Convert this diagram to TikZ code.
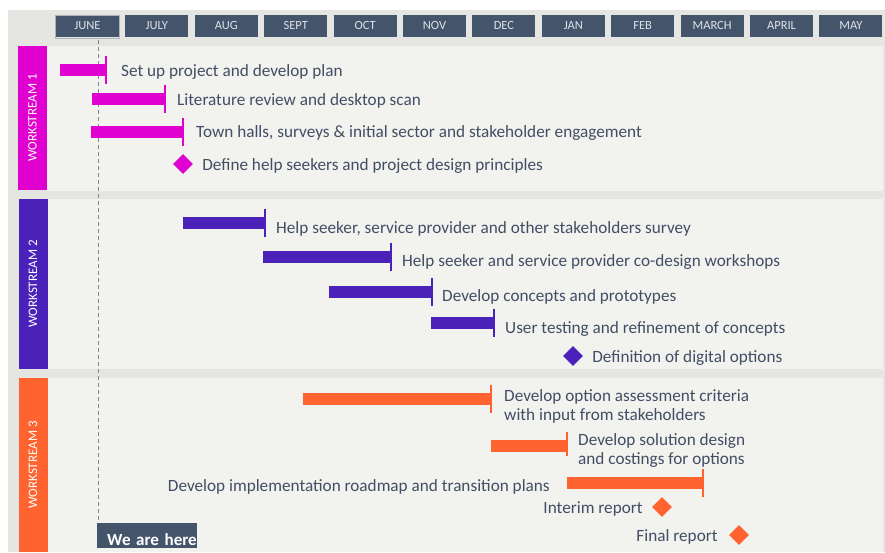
\documentclass[tikz,border=0pt]{standalone}
\usepackage{fontspec}
\setmainfont{Carlito}
\usepackage{tikz}
\usetikzlibrary{positioning, shapes.geometric}
\usepackage{xcolor}
\definecolor{wsone}{RGB}{224,0,208}
\definecolor{wstwo}{RGB}{74,34,185}
\definecolor{wsthree}{RGB}{255,99,48}
\definecolor{slate}{RGB}{68,84,106}
\definecolor{txtcol}{RGB}{66,78,100}
\definecolor{monthtxt}{RGB}{222,226,232}
\definecolor{outerbg}{RGB}{229,229,225}
\definecolor{panelbg}{RGB}{242,242,239}
\tikzset{
  month/.style   = {fill=slate, text=monthtxt, minimum width=63pt, minimum height=22pt,
                    inner sep=0pt, font=\fontsize{12.5}{14}\selectfont},
  stream/.style  = {fill=#1, text=white, rotate=90, minimum height=29pt, inner sep=0pt,
                    font=\fontsize{13}{15}\selectfont},
  bar/.style     = {fill=#1, minimum height=12pt, inner sep=0pt, outer sep=0pt, anchor=west},
  endmark/.style = {draw=#1, line width=1.5pt},
  mile/.style    = {diamond, fill=#1, minimum width=20pt, minimum height=20pt, inner sep=0pt},
  task/.style    = {text=txtcol, inner sep=0pt, align=left, yshift=-2pt,
                    font=\fontsize{17.2}{19}\selectfont},
  nowline/.style = {draw=slate!70, line width=1pt, dash pattern=on 4pt off 3pt},
  here/.style    = {fill=slate, text=white, anchor=north west, minimum height=25pt,
                    text width=80pt, text height=20.5pt, text depth=0pt,
                    inner xsep=10pt, inner ysep=2.25pt, align=left,
                    font=\bfseries\fontsize{17}{20}\selectfont},
}

\begin{document}
\begin{tikzpicture}[x=1pt, y=-1pt]
  \useasboundingbox (0,0) rectangle (885,552);
  % backdrop and the three workstream panels
  \fill[outerbg] (8,10) rectangle (885,552);
  \fill[panelbg] (47,46) rectangle (883,191);
  \fill[panelbg] (47,199) rectangle (883,369);
  \fill[panelbg] (47,378) rectangle (883,552);

  \node[stream=wsone, minimum width=144pt] (w1) at (32.5,118) {WORKSTREAM 1};
  \node[stream=wstwo, minimum width=170pt] (w2) at (33,284) {WORKSTREAM 2};
  \node[stream=wsthree, minimum width=174pt] (w3) at (33,465) {WORKSTREAM 3};

  % month header
  \foreach \m [count=\i from 0] in {JUNE, JULY, AUG, SEPT, OCT, NOV, DEC, JAN, FEB, MARCH, APRIL, MAY}
    \node[month] (m\i) at ({87.5+69.4*\i},25.5) {\m};
  \draw[slate!45, line width=1pt] ([yshift=-1pt]m0.north west) rectangle ([yshift=-1.5pt]m0.south east);

  % today marker
  \coordinate (now) at (98,40);
  \node[here] (here) at (97,523) {\mbox{We are here}};
  \draw[nowline] (now) -- (now |- here.north);

  % workstream 1
  \node[bar=wsone, minimum width=46pt] (a1) at (60,70) {};
  \draw[endmark=wsone] ([yshift=8pt]a1.north east) -- ([yshift=-8pt]a1.south east);
  \node[task, right=15pt of a1] (ta1) {Set up project and develop plan};
  \node[bar=wsone, minimum width=73pt] (a2) at (92,98.5) {};
  \draw[endmark=wsone] ([yshift=8pt]a2.north east) -- ([yshift=-8pt]a2.south east);
  \node[task, right=12pt of a2] (ta2) {Literature review and desktop scan};
  \node[bar=wsone, minimum width=92pt] (a3) at (91,131.5) {};
  \draw[endmark=wsone] ([yshift=8pt]a3.north east) -- ([yshift=-8pt]a3.south east);
  \node[task, right=13pt of a3] (ta3) {Town halls, surveys \& initial sector and stakeholder engagement};
  \node[mile=wsone] (a4) at (183,164) {};
  \node[task, right=9pt of a4] (ta4) {Define help seekers and project design principles};

  % workstream 2
  \node[bar=wstwo, minimum width=82pt] (b1) at (183,223) {};
  \draw[endmark=wstwo] ([yshift=8pt]b1.north east) -- ([yshift=-8pt]b1.south east);
  \node[task, right=11pt of b1, yshift=-4pt] (tb1) {Help seeker, service provider and other stakeholders survey};
  \node[bar=wstwo, minimum width=128pt] (b2) at (263,257) {};
  \draw[endmark=wstwo] ([yshift=8pt]b2.north east) -- ([yshift=-8pt]b2.south east);
  \node[task, right=11pt of b2, yshift=-3pt] (tb2) {Help seeker and service provider co-design workshops};
  \node[bar=wstwo, minimum width=103pt] (b3) at (329,291.5) {};
  \draw[endmark=wstwo] ([yshift=8pt]b3.north east) -- ([yshift=-8pt]b3.south east);
  \node[task, right=10pt of b3, yshift=-3.5pt] (tb3) {Develop concepts and prototypes};
  \node[bar=wstwo, minimum width=63pt] (b4) at (431,322.5) {};
  \draw[endmark=wstwo] ([yshift=8pt]b4.north east) -- ([yshift=-8pt]b4.south east);
  \node[task, right=11pt of b4, yshift=-4pt] (tb4) {User testing and refinement of concepts};
  \node[mile=wstwo] (b5) at (573,356) {};
  \node[task, right=9pt of b5] (tb5) {Definition of digital options};

  % workstream 3
  \node[bar=wsthree, minimum width=188pt] (c1) at (303,398.5) {};
  \draw[endmark=wsthree] ([yshift=8pt]c1.north east) -- ([yshift=-8pt]c1.south east);
  \node[task, right=13pt of c1, yshift=-6pt] (tc1) {Develop option assessment criteria\\with input from stakeholders};
  \node[bar=wsthree, minimum width=76pt] (c2) at (491,445.5) {};
  \draw[endmark=wsthree] ([yshift=8pt]c2.north east) -- ([yshift=-4pt]c2.south east);
  \node[task, right=11pt of c2, yshift=-2.5pt] (tc2) {Develop solution design\\and costings for options};
  \node[bar=wsthree, minimum width=136pt] (c3) at (567,482.5) {};
  \draw[endmark=wsthree] ([yshift=8pt]c3.north east) -- ([yshift=-8pt]c3.south east);
  \node[task, left=17pt of c3, yshift=-2pt] (tc3) {Develop implementation roadmap and transition plans};
  \node[mile=wsthree] (c4) at (662,507) {};
  \node[task, left=9pt of c4] (tc4) {Interim report};
  \node[mile=wsthree] (c5) at (739,535) {};
  \node[task, left=11pt of c5] (tc5) {Final report};
\end{tikzpicture}
\end{document}
